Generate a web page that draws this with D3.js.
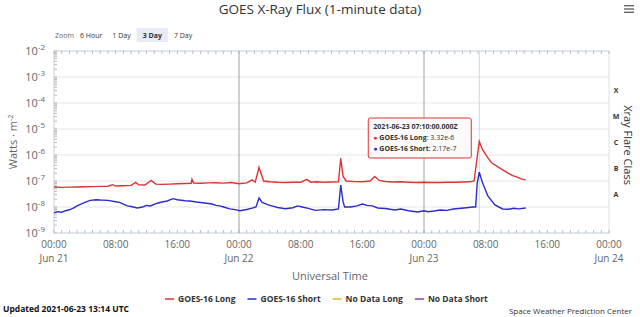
<!DOCTYPE html>
<html>
<head>
<meta charset="utf-8">
<script src="https://cdn.jsdelivr.net/npm/d3@7"></script>
<style>
  body { margin: 0; background: #fff; }
  text { font-family: "Open Sans", "Liberation Sans", sans-serif; }
</style>
</head>
<body>
<div id="chart"></div>
<script>
"use strict"

let svgWidth = 640
let svgHeight = 317

let margin = { top: 51, right: 31, bottom: 84, left: 54 }

// hours from 2021-06-21 00:00 UTC, flux in W/m^2
let goesLong = [
    [0, 5.9e-8], [1, 5.7e-8], [2, 5.8e-8], [3, 5.9e-8], [4, 6.0e-8], [5, 6.1e-8],
    [6, 6.2e-8], [7, 6.3e-8], [7.6, 7.2e-8], [8, 6.4e-8], [9, 6.6e-8], [10, 6.8e-8],
    [10.6, 8.8e-8], [11, 7.2e-8], [11.8, 7.0e-8], [12.6, 1.05e-7], [13.2, 7.6e-8],
    [14, 7.4e-8], [15, 7.6e-8], [16, 7.8e-8], [17, 8.0e-8], [17.8, 8.2e-8],
    [17.9, 1.15e-7], [18.1, 8.4e-8], [19, 8.2e-8], [20, 8.5e-8], [21, 8.6e-8],
    [22, 8.3e-8], [23, 8.7e-8], [24, 7.8e-8], [25, 8.5e-8], [25.7, 1.1e-7],
    [26.1, 9.0e-8], [26.6, 3.3e-7], [27.2, 1.0e-7], [28, 9.4e-8], [29, 9.0e-8],
    [30, 8.8e-8], [31, 9.0e-8], [32, 8.9e-8], [32.8, 1.15e-7], [33.3, 9.0e-8],
    [34, 9.3e-8], [35, 8.9e-8], [36, 9.1e-8], [36.9, 9.3e-8], [37.2, 7.5e-7],
    [37.5, 1.5e-7], [37.9, 1.0e-7], [39, 9.5e-8], [40, 9.3e-8], [41, 1.0e-7],
    [41.6, 1.5e-7], [42.2, 1.05e-7], [43, 9.6e-8], [44, 9.2e-8], [45, 9.3e-8],
    [46, 9.0e-8], [47, 8.8e-8], [48, 8.9e-8], [49, 8.7e-8], [50, 8.8e-8],
    [51, 9.0e-8], [52, 9.0e-8], [53, 9.2e-8], [54, 9.3e-8], [54.5, 1.0e-7],
    [54.8, 5.0e-7], [55.17, 3.32e-6], [55.6, 1.6e-6], [56.2, 8.4e-7], [56.8, 4.9e-7],
    [57.8, 3.2e-7], [58.9, 2.0e-7], [59.5, 1.6e-7], [60, 1.45e-7], [60.6, 1.2e-7],
    [61.2, 1.1e-7]
]

let goesShort = [
    [0, 5.9e-9], [0.5, 6.6e-9], [1, 6.3e-9], [1.5, 7.2e-9], [2, 7.8e-9], [2.5, 9.0e-9],
    [3, 1.1e-8], [3.5, 1.3e-8], [4, 1.5e-8], [4.7, 1.8e-8], [5.5, 1.9e-8], [6, 1.85e-8],
    [7, 1.8e-8], [8, 1.6e-8], [8.5, 1.5e-8], [9, 1.3e-8], [9.5, 1.1e-8], [10, 1.05e-8],
    [10.8, 9.2e-9], [11.5, 1.0e-8], [12, 1.15e-8], [12.5, 1.1e-8], [13.4, 1.4e-8],
    [14, 1.55e-8], [14.7, 1.7e-8], [15.4, 2.1e-8], [16, 1.9e-8], [17, 1.75e-8],
    [17.6, 1.7e-8], [18.5, 1.55e-8], [19.8, 1.4e-8], [20.5, 1.3e-8], [21, 1.15e-8],
    [21.5, 1.1e-8], [22, 1.0e-8], [22.8, 8.5e-9], [23.5, 7.9e-9], [24.1, 7.2e-9],
    [25, 8.0e-9], [25.7, 9.0e-9], [26.2, 1.0e-8], [26.6, 2.2e-8], [27, 1.5e-8],
    [27.8, 1.2e-8], [28.5, 1.05e-8], [29, 9.6e-9], [30, 8.6e-9], [31, 9.4e-9],
    [31.6, 1.1e-8], [32.2, 1.0e-8], [33, 8.8e-9], [33.9, 7.4e-9], [35, 7.9e-9],
    [36.1, 7.7e-9], [36.9, 8.5e-9], [37.2, 7.0e-8], [37.5, 1.6e-8], [37.7, 1.0e-8],
    [38.5, 1.0e-8], [39.3, 1.1e-8], [40, 1.3e-8], [40.6, 1.15e-8], [41.3, 1.1e-8],
    [42, 9.2e-9], [43, 8.8e-9], [44.2, 7.7e-9], [45, 8.4e-9], [46, 7.2e-9],
    [47.2, 6.4e-9], [48, 7.2e-9], [48.5, 6.6e-9], [49.3, 7.0e-9], [50.1, 7.7e-9],
    [51, 7.4e-9], [51.8, 8.4e-9], [52.5, 8.8e-9], [53.5, 9.4e-9], [54.3, 1.0e-8],
    [54.7, 1.0e-8], [54.9, 8.0e-8], [55.17, 2.17e-7], [55.6, 8.3e-8], [56.3, 2.6e-8],
    [57.2, 1.2e-8], [58.2, 8.4e-9], [59, 8.2e-9], [59.6, 8.9e-9], [60.3, 8.5e-9],
    [61.2, 9.2e-9]
]

let flareClasses = [
    { label: "X", lo: 1e-4 }, { label: "M", lo: 1e-5 }, { label: "C", lo: 1e-6 },
    { label: "B", lo: 1e-7 }, { label: "A", lo: 1e-8 }
]

let zoomButtons = ["6 Hour", "1 Day", "3 Day", "7 Day"]
let legendItems = [
    { name: "GOES-16 Long", color: "#dd3333" },
    { name: "GOES-16 Short", color: "#2b2bd0" },
    { name: "No Data Long", color: "#e8b830" },
    { name: "No Data Short", color: "#8a3fb5" }
]
let tooltipHour = 55.17
let tooltipTitle = "2021-06-23 07:10:00.000Z"

let startTime = Date.UTC(2021, 5, 21)
let toDate = h => new Date(startTime + h * 3600e3)

let svg = d3.select("#chart").append("svg")
    .attr("width", svgWidth)
    .attr("height", svgHeight)

let xScale = d3.scaleUtc()
    .domain([toDate(0), toDate(72)])
    .range([margin.left, svgWidth - margin.right])

let yScale = d3.scaleLog()
    .domain([1e-9, 1e-2])
    .range([svgHeight - margin.bottom, margin.top])

let plotTop = margin.top, plotBottom = svgHeight - margin.bottom
let plotLeft = margin.left, plotRight = svgWidth - margin.right

/* Title and menu */
svg.append("text")
    .attr("x", 320).attr("y", 14)
    .attr("text-anchor", "middle")
    .attr("font-size", 13.5)
    .attr("fill", "#333")
    .text("GOES X-Ray Flux (1-minute data)")

for (let i = 0; i < 3; i++) {
    svg.append("rect")
        .attr("x", 624).attr("y", 5 + i * 3.3)
        .attr("width", 10).attr("height", 1.4)
        .attr("fill", "#666")
}

/* Zoom buttons */
svg.append("text")
    .attr("x", 55).attr("y", 38)
    .attr("font-size", 7).attr("fill", "#666")
    .text("Zoom")

let bx = 76
zoomButtons.forEach(function (label) {
    let active = label === "3 Day"
    let g = svg.append("g")
    let t = g.append("text")
        .attr("x", bx + 4).attr("y", 38)
        .attr("font-size", 7)
        .attr("font-weight", active ? "bold" : "normal")
        .attr("fill", "#333")
        .text(label)
    let w = t.node().getComputedTextLength() + 8
    if (active) {
        g.insert("rect", "text")
            .attr("x", bx).attr("y", 28)
            .attr("width", w + 4).attr("height", 14)
            .attr("fill", "#e6ebf5")
        t.attr("x", bx + 6)
        w += 4
    }
    bx += w + 2
})

/* Horizontal grid */
let decades = d3.range(-9, -1).map(e => Math.pow(10, e))
svg.append("g").selectAll("line")
    .data(decades)
    .enter().append("line")
    .attr("x1", plotLeft).attr("x2", plotRight)
    .attr("y1", d => yScale(d)).attr("y2", d => yScale(d))
    .attr("stroke", "#e6e6e6")

/* Y axis labels with superscripts */
let yLabels = svg.append("g")
decades.forEach(function (d) {
    let e = Math.round(Math.log10(d))
    let t = yLabels.append("text")
        .attr("x", 45).attr("y", yScale(d) + 4)
        .attr("text-anchor", "end")
        .attr("font-size", 11)
        .attr("fill", "#666")
    t.append("tspan").text("10")
    t.append("tspan").attr("dy", -5).attr("font-size", 8).text("-" + Math.abs(e))
})

/* Minor log ticks on left axis */
let minorY = yScale.ticks()
svg.append("g").selectAll("line")
    .data(minorY)
    .enter().append("line")
    .attr("x1", plotLeft).attr("x2", plotLeft + 3)
    .attr("y1", d => yScale(d)).attr("y2", d => yScale(d))
    .attr("stroke", "#bbb")

/* Frame lines */
svg.append("line").attr("x1", plotLeft).attr("x2", plotLeft)
    .attr("y1", plotTop).attr("y2", plotBottom).attr("stroke", "#ccc")
svg.append("line").attr("x1", plotRight).attr("x2", plotRight)
    .attr("y1", plotTop).attr("y2", plotBottom).attr("stroke", "#e0e0e0")
svg.append("line").attr("x1", plotLeft).attr("x2", plotRight)
    .attr("y1", plotTop).attr("y2", plotTop).attr("stroke", "#ccd6eb")
svg.append("line").attr("x1", plotLeft).attr("x2", plotRight)
    .attr("y1", plotBottom).attr("y2", plotBottom).attr("stroke", "#ccd6eb")

/* Hourly ticks top and bottom */
let hours = d3.utcHour.range(toDate(0), toDate(72.01))
svg.append("g").selectAll("line")
    .data(hours)
    .enter().append("line")
    .attr("x1", d => xScale(d)).attr("x2", d => xScale(d))
    .attr("y1", plotTop).attr("y2", plotTop + 3)
    .attr("stroke", "#bbb")
svg.append("g").selectAll("line")
    .data(hours)
    .enter().append("line")
    .attr("x1", d => xScale(d)).attr("x2", d => xScale(d))
    .attr("y1", plotBottom).attr("y2", plotBottom - 3)
    .attr("stroke", "#bbb")

/* Day separators */
let days = [toDate(24), toDate(48)]
svg.append("g").selectAll("line")
    .data(days)
    .enter().append("line")
    .attr("x1", d => xScale(d)).attr("x2", d => xScale(d))
    .attr("y1", plotTop).attr("y2", plotBottom)
    .attr("stroke", "#a0a0a0")

/* Crosshair */
svg.append("line")
    .attr("x1", xScale(toDate(tooltipHour))).attr("x2", xScale(toDate(tooltipHour)))
    .attr("y1", plotTop).attr("y2", plotBottom)
    .attr("stroke", "#ccd6eb")

/* X tick labels: time, and date under midnight ticks */
let xTicks = d3.utcHour.every(8).range(toDate(0), toDate(72.01))
let xLabels = svg.append("g")
xTicks.forEach(function (d) {
    xLabels.append("text")
        .attr("x", xScale(d)).attr("y", plotBottom + 15)
        .attr("text-anchor", "middle")
        .attr("font-size", 10).attr("fill", "#666")
        .text(d3.utcFormat("%H:%M")(d))
    if (d.getUTCHours() === 0) {
        xLabels.append("text")
            .attr("x", xScale(d)).attr("y", plotBottom + 29)
            .attr("text-anchor", "middle")
            .attr("font-size", 10).attr("fill", "#666")
            .text(d3.utcFormat("%b %-d")(d))
    }
})

/* Axis titles */
svg.append("text")
    .attr("x", 330).attr("y", 280)
    .attr("text-anchor", "middle")
    .attr("font-size", 11).attr("fill", "#666")
    .text("Universal Time")

let yTitle = svg.append("text")
    .attr("transform", `translate(17,${(plotTop + plotBottom) / 2}) rotate(-90)`)
    .attr("text-anchor", "middle")
    .attr("font-size", 11).attr("fill", "#666")
yTitle.append("tspan").text("Watts · m")
yTitle.append("tspan").attr("dy", -4).attr("font-size", 7).text("-2")

svg.append("text")
    .attr("transform", `translate(624,${(plotTop + plotBottom) / 2 + 3}) rotate(90)`)
    .attr("text-anchor", "middle")
    .attr("font-size", 11).attr("fill", "#333")
    .text("Xray Flare Class")

/* Flare classes on the right */
svg.append("g").selectAll("text")
    .data(flareClasses)
    .enter().append("text")
    .attr("x", 616)
    .attr("y", d => (yScale(d.lo) + yScale(d.lo * 10)) / 2 + 3)
    .attr("text-anchor", "middle")
    .attr("font-size", 7).attr("font-weight", "bold").attr("fill", "#333")
    .text(d => d.label)

/* Series */
let line = d3.line()
    .x(d => xScale(toDate(d[0])))
    .y(d => yScale(d[1]))

svg.append("path")
    .datum(goesLong)
    .attr("d", line)
    .attr("fill", "none")
    .attr("stroke", legendItems[0].color)
    .attr("stroke-width", 1.4)

svg.append("path")
    .datum(goesShort)
    .attr("d", line)
    .attr("fill", "none")
    .attr("stroke", legendItems[1].color)
    .attr("stroke-width", 1.4)

/* Tooltip */
let tx = xScale(toDate(tooltipHour)) - 111
let ty = 118
let tip = svg.append("g").attr("transform", `translate(${tx},${ty})`)
tip.append("rect")
    .attr("width", 103).attr("height", 40).attr("rx", 2)
    .attr("fill", "rgba(250,250,250,0.9)")
    .attr("stroke", legendItems[0].color)
tip.append("text")
    .attr("x", 5).attr("y", 11)
    .attr("font-size", 7).attr("font-weight", "bold").attr("fill", "#333")
    .text(tooltipTitle)
let tipRows = [
    { name: "GOES-16 Long", color: legendItems[0].color, value: goesLong.find(d => d[0] === tooltipHour)[1] },
    { name: "GOES-16 Short", color: legendItems[1].color, value: goesShort.find(d => d[0] === tooltipHour)[1] }
]
tipRows.forEach(function (r, i) {
    let t = tip.append("text")
        .attr("x", 5).attr("y", 22 + i * 11)
        .attr("font-size", 7).attr("fill", "#333")
    t.append("tspan").attr("fill", r.color).text("● ")
    t.append("tspan").attr("font-weight", "bold").text(r.name)
    t.append("tspan").text(": " + d3.format(".2e")(r.value))
})

/* Legend */
let lx = 165
let legend = svg.append("g")
legendItems.forEach(function (item) {
    legend.append("line")
        .attr("x1", lx).attr("x2", lx + 9)
        .attr("y1", 299).attr("y2", 299)
        .attr("stroke", item.color).attr("stroke-width", 1.5)
    let t = legend.append("text")
        .attr("x", lx + 13).attr("y", 302)
        .attr("font-size", 8.5).attr("font-weight", "bold").attr("fill", "#333")
        .text(item.name)
    lx += 13 + t.node().getComputedTextLength() + 12
})

/* Footer */
svg.append("text")
    .attr("x", 3).attr("y", 312)
    .attr("font-size", 8.5).attr("font-weight", "bold").attr("fill", "#111")
    .text("Updated 2021-06-23 13:14 UTC")

svg.append("text")
    .attr("x", 632).attr("y", 314)
    .attr("text-anchor", "end")
    .attr("font-size", 8).attr("fill", "#333")
    .text("Space Weather Prediction Center")
</script>
</body>
</html>
